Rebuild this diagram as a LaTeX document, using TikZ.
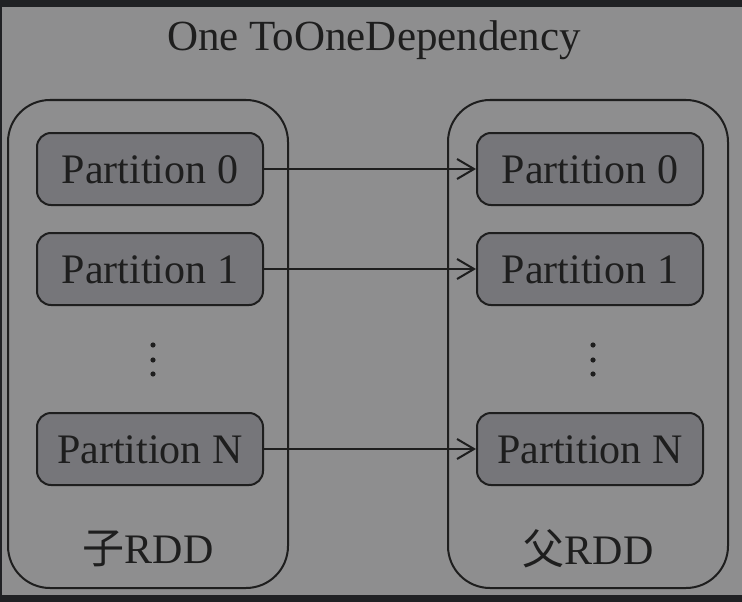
\documentclass[tikz,border=0pt]{standalone}
\usepackage{fontspec}
\setmainfont{Liberation Serif}
\newfontfamily\cjk{Noto Sans CJK SC}
\usetikzlibrary{arrows.meta}
\definecolor{bggray}{HTML}{8E8E8F}
\definecolor{partgray}{HTML}{76767A}
\definecolor{framedark}{HTML}{202124}
\definecolor{inkdark}{HTML}{1E1E1E}
\def\bigfont{\fontsize{42}{44}\selectfont}

\begin{document}
\begin{tikzpicture}[x=1pt,y=-1pt,
    rddbox/.style={draw=inkdark,line width=2pt,rounded corners=42pt,
      minimum width=280pt,minimum height=488pt},
    part/.style={draw=inkdark,line width=2pt,fill=partgray,rounded corners=14pt,
      minimum width=226pt,minimum height=72pt,font=\bigfont,text=inkdark},
    dep/.style={draw=inkdark,line width=2pt,
      -{Straight Barb[length=17pt,width=20pt,line width=2pt]}}]
    % frame and background
    \fill[framedark] (0,0) rectangle (742,602);
    \fill[bggray] (2,7) rectangle (742,595);
    \useasboundingbox (0,0) rectangle (742,602);

    \node[text=inkdark,font=\fontsize{43}{46}\selectfont] (title) at (374,40) {One ToOneDependency};

    % the two RDDs
    \node[rddbox] (child) at (148,344) {};
    \node[rddbox] (parent) at (588,344) {};
    \node[text=inkdark,font=\bigfont] (childlbl) at (148,549) {{\cjk 子}RDD};
    \node[text=inkdark,font=\bigfont] (parentlbl) at (588,549) {{\cjk 父}RDD};

    % partitions
    \foreach \n/\y/\t in {0/169/0, 1/269/1, N/449/N} {
        \node[part,text depth=0pt,text height=28pt] (c\n) at (150,\y) {Partition \t};
        \node[part,text depth=0pt,text height=28pt] (p\n) at (590,\y) {Partition \t};
        \draw[dep] (c\n) -- (p\n);
    }

    % dots
    \foreach \y in {345,360,374} {
        \fill[inkdark] (153,\y) circle (2.6pt);
        \fill[inkdark] (593,\y) circle (2.6pt);
    }
\end{tikzpicture}
\end{document}
